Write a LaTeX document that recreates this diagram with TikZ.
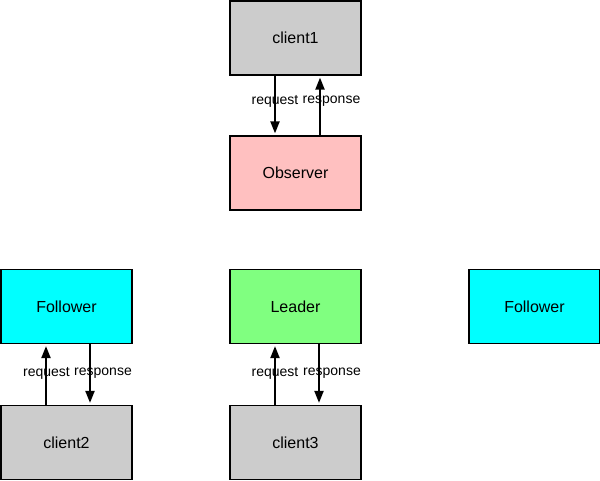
\documentclass[tikz,border=0pt]{standalone}
\usepackage{fontspec}
\setmainfont{Liberation Sans}
\usetikzlibrary{arrows.meta}
\definecolor{clientgray}{HTML}{CCCCCC}
\definecolor{obspink}{HTML}{FFC0C0}
\definecolor{folcyan}{HTML}{00FFFF}
\definecolor{leadgreen}{HTML}{80FF80}
\tikzset{
  box/.style={draw=black, line width=1.2pt, minimum width=131pt, minimum height=74pt,
    inner sep=0pt, font=\fontsize{16}{18}\selectfont},
  flow/.style={line width=2pt, -{Triangle[length=12pt, width=9pt]}, shorten >=2pt},
  tag/.style={font=\fontsize{14}{16}\selectfont, inner sep=0pt}
}
\begin{document}
\begin{tikzpicture}[x=1pt, y=-1pt]
\useasboundingbox (0,0) rectangle (600,481);
% boxes
\node[box, fill=clientgray] (c1) at (295.5,38) {client1};
\node[box, fill=obspink] (obs) at (295.5,173) {Observer};
\node[box, fill=folcyan] (fl) at (66.5,306.5) {Follower};
\node[box, fill=leadgreen] (ld) at (295.5,306.5) {Leader};
\node[box, fill=folcyan] (fr) at (534.5,306.5) {Follower};
\node[box, fill=clientgray] (c2) at (66.5,442.5) {client2};
\node[box, fill=clientgray] (c3) at (295.5,442.5) {client3};
% client1 <-> Observer
\draw[flow] ([xshift=-20.5pt]c1.south) -- ([xshift=-20.5pt]obs.north);
\draw[flow] ([xshift=24.5pt]obs.north) -- ([xshift=24.5pt]c1.south);
\node[tag] (rq1) at (275,101) {request};
\node[tag] (rs1) at (331.5,101) {response};
% client2 <-> Follower
\draw[flow] ([xshift=-20.5pt]c2.north) -- ([xshift=-20.5pt]fl.south);
\draw[flow] ([xshift=23.5pt]fl.south) -- ([xshift=23.5pt]c2.north);
\node[tag] (rq2) at (46.5,373) {request};
\node[tag] (rs2) at (103,373) {response};
% client3 <-> Leader
\draw[flow] ([xshift=-20.5pt]c3.north) -- ([xshift=-20.5pt]ld.south);
\draw[flow] ([xshift=23.5pt]ld.south) -- ([xshift=23.5pt]c3.north);
\node[tag] (rq3) at (275,373) {request};
\node[tag] (rs3) at (332,373) {response};
\end{tikzpicture}
\end{document}
